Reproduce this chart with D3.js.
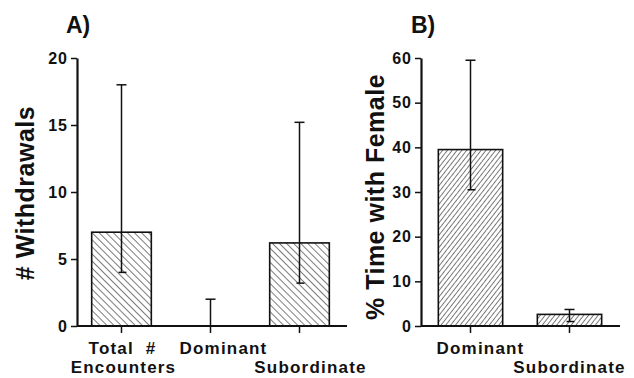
<!DOCTYPE html>
<html>
<head>
<meta charset="utf-8">
<script src="https://cdn.jsdelivr.net/npm/d3@7"></script>
<style>
  body { margin: 0; background: #fff; }
  svg { display: block; }
  text { font-family: "Liberation Sans", Arial, sans-serif; font-weight: bold; fill: #111; white-space: pre; }
</style>
</head>
<body>
<div id="chart"></div>
<script>
// panel A: withdrawals
const catsA = ['Total # Encounters', 'Dominant', 'Subordinate'];
const labelsA = [['Total  #', 'Encounters'], ['Dominant', ''], ['', 'Subordinate']];
const meansA = [7.0, 0, 6.2];
const lowA = [4.0, 0, 3.2];
const highA = [18.0, 2.0, 15.2];
const ticksA = [0, 5, 10, 15, 20];

// panel B: % time with female
const catsB = ['Dominant', 'Subordinate'];
const labelsB = [['Dominant', ''], ['', 'Subordinate']];
const meansB = [39.5, 2.6];
const lowB = [30.5, 1.0];
const highB = [59.5, 3.7];
const ticksB = [0, 10, 20, 30, 40, 50, 60];

const width = 634, height = 378;
const svg = d3.select('#chart').append('svg')
  .attr('width', width)
  .attr('height', height);

const defs = svg.append('defs');
function addHatch(id, size, angle) {
  const p = defs.append('pattern')
    .attr('id', id)
    .attr('patternUnits', 'userSpaceOnUse')
    .attr('width', size)
    .attr('height', size)
    .attr('patternTransform', 'rotate(' + angle + ')');
  p.append('line')
    .attr('x1', 0).attr('y1', 0)
    .attr('x2', 0).attr('y2', size)
    .attr('stroke', '#222')
    .attr('stroke-width', 1.2);
}
addHatch('hatchA', 5, -45);
addHatch('hatchB', 3.8, 38);

function drawPanel(opts) {
  const g = svg.append('g');

  const x = d3.scaleBand()
    .domain(opts.cats)
    .range(opts.xRange)
    .paddingInner(opts.pad)
    .paddingOuter(opts.pad / 2);

  const y = d3.scaleLinear()
    .domain([0, opts.ticks[opts.ticks.length - 1]])
    .range([326, 58]);

  // y axis
  const ya = g.append('g')
    .attr('transform', 'translate(' + opts.xRange[0] + ',0)')
    .call(d3.axisLeft(y).tickValues(opts.ticks).tickSize(6).tickSizeOuter(0).tickPadding(3));
  ya.select('.domain').attr('stroke', '#111').attr('stroke-width', 2.2);
  ya.selectAll('.tick line').attr('stroke', '#111').attr('stroke-width', 1.5);
  ya.selectAll('.tick text')
    .style('font-family', '"Liberation Sans", Arial, sans-serif')
    .style('font-weight', 'bold')
    .style('font-size', '16px')
    .style('letter-spacing', '1px')
    .attr('fill', '#111');

  // bars
  g.selectAll('rect.bar')
    .data(opts.means)
    .join('rect')
    .attr('class', 'bar')
    .attr('x', (d, i) => x(opts.cats[i]))
    .attr('y', d => y(d))
    .attr('width', x.bandwidth())
    .attr('height', d => y(0) - y(d))
    .attr('fill', 'url(#' + opts.hatch + ')')
    .attr('stroke', '#111')
    .attr('stroke-width', 1.6);

  // error bars
  const cx = i => x(opts.cats[i]) + x.bandwidth() / 2;
  g.selectAll('line.err')
    .data(opts.high)
    .join('line')
    .attr('class', 'err')
    .attr('x1', (d, i) => cx(i))
    .attr('x2', (d, i) => cx(i))
    .attr('y1', (d, i) => y(opts.low[i]))
    .attr('y2', d => y(d))
    .attr('stroke', '#111')
    .attr('stroke-width', 1.5);
  g.selectAll('line.capHi')
    .data(opts.high)
    .join('line')
    .attr('class', 'capHi')
    .attr('x1', (d, i) => cx(i) - 5)
    .attr('x2', (d, i) => cx(i) + 5)
    .attr('y1', d => y(d))
    .attr('y2', d => y(d))
    .attr('stroke', '#111')
    .attr('stroke-width', 1.5);
  g.selectAll('line.capLo')
    .data(opts.low.filter(d => d > 0))
    .join('line')
    .attr('class', 'capLo')
    .attr('x1', d => cx(opts.low.indexOf(d)) - 3)
    .attr('x2', d => cx(opts.low.indexOf(d)) + 5)
    .attr('y1', d => y(d))
    .attr('y2', d => y(d))
    .attr('stroke', '#111')
    .attr('stroke-width', 1.5);

  // baseline
  g.append('line')
    .attr('x1', opts.xRange[0])
    .attr('x2', opts.xRange[1] + opts.extra)
    .attr('y1', y(0))
    .attr('y2', y(0))
    .attr('stroke', '#111')
    .attr('stroke-width', 2.2);

  // category ticks
  g.selectAll('line.xtick')
    .data(opts.cats)
    .join('line')
    .attr('class', 'xtick')
    .attr('x1', d => x(d) + x.bandwidth() / 2)
    .attr('x2', d => x(d) + x.bandwidth() / 2)
    .attr('y1', y(0))
    .attr('y2', y(0) + 7)
    .attr('stroke', '#111')
    .attr('stroke-width', 1.5);

  // category labels
  opts.labels.forEach((lines, i) => {
    lines.forEach((t, j) => {
      if (!t) return;
      g.append('text')
        .attr('x', cx(i) + opts.labelShift[i][j])
        .attr('y', 354 + j * 19)
        .attr('text-anchor', 'middle')
        .style('font-size', '17px')
        .style('letter-spacing', '1.2px')
        .text(t);
    });
  });

  // axis title
  g.append('text')
    .attr('transform', 'translate(' + opts.titleX + ',' + opts.titleY + ') rotate(-90)')
    .attr('text-anchor', 'middle')
    .style('font-size', '25px')
    .style('letter-spacing', '0.5px')
    .text(opts.title);

  // panel letter
  g.append('text')
    .attr('x', opts.letterX)
    .attr('y', 33)
    .style('font-size', '23px')
    .text(opts.letter);
}

drawPanel({
  cats: catsA, labels: labelsA, means: meansA, low: lowA, high: highA, ticks: ticksA,
  xRange: [77, 344], pad: 0.33, extra: 3, hatch: 'hatchA',
  labelShift: [[1, 2], [13, 0], [0, 11]],
  title: '# Withdrawals', titleX: 34, titleY: 193,
  letter: 'A)', letterX: 66
});

drawPanel({
  cats: catsB, labels: labelsB, means: meansB, low: lowB, high: highB, ticks: ticksB,
  xRange: [421, 619], pad: 0.35, extra: 1, hatch: 'hatchB',
  labelShift: [[10, 0], [0, 0]],
  title: '% Time with Female', titleX: 384, titleY: 197,
  letter: 'B)', letterX: 411
});
</script>
</body>
</html>
